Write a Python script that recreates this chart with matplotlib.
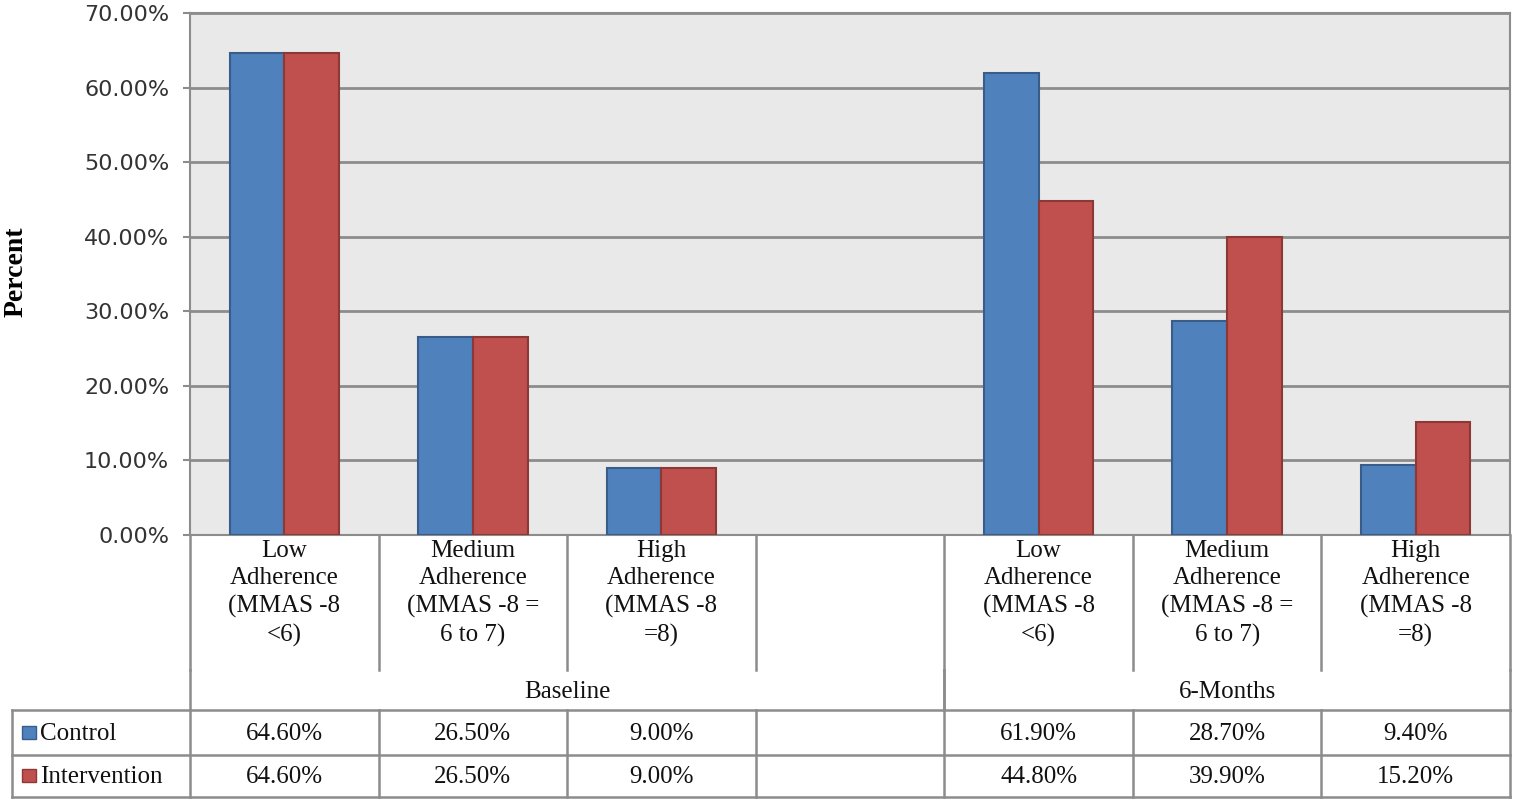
import numpy as np
import matplotlib
matplotlib.use("Agg")
import matplotlib.pyplot as plt
from matplotlib.patches import Rectangle

# data
categories = ["Low\nAdherence\n(MMAS -8\n<6)",
              "Medium\nAdherence\n(MMAS -8 =\n6 to 7)",
              "High\nAdherence\n(MMAS -8\n=8)",
              "",
              "Low\nAdherence\n(MMAS -8\n<6)",
              "Medium\nAdherence\n(MMAS -8 =\n6 to 7)",
              "High\nAdherence\n(MMAS -8\n=8)"]
control = [64.6, 26.5, 9.0, np.nan, 61.9, 28.7, 9.4]
intervention = [64.6, 26.5, 9.0, np.nan, 44.8, 39.9, 15.2]
groups = ["Baseline", "6-Months"]
group_span = [(0, 3), (4, 6)]
series = ["Control", "Intervention"]
yticks = [0, 10, 20, 30, 40, 50, 60, 70]

blue, blue_edge = "#4F81BD", "#385D8A"
red, red_edge = "#C0504D", "#8C3836"
grid_c = "#8C8C8C"
serif = "Liberation Serif"

fig = plt.figure(figsize=(15.15, 8), dpi=100)
W, H = 1515.0, 800.0
x0, x1, ytop, ybot = 190, 1510, 13, 535
ax = fig.add_axes([x0 / W, 1 - ybot / H, (x1 - x0) / W, (ybot - ytop) / H])

x = np.arange(len(categories))
w = 0.29
ax.set_facecolor("#E9E9E9")
ax.bar(x - w / 2, control, w, color=blue, edgecolor=blue_edge, linewidth=1.5, zorder=3)
ax.bar(x + w / 2, intervention, w, color=red, edgecolor=red_edge, linewidth=1.5, zorder=3)
ax.set_xlim(-0.5, len(categories) - 0.5)
ax.set_ylim(0, 70)
ax.set_yticks(yticks)
ax.set_yticklabels(["%.2f%%" % v for v in yticks], fontsize=16, color="#333333",
                   family="DejaVu Sans")
ax.set_xticks([])
ax.yaxis.grid(True, color=grid_c, linewidth=2, zorder=1)
ax.set_axisbelow(True)
ax.tick_params(axis="y", length=5, width=1.5, color=grid_c, pad=10)
for s in ax.spines.values():
    s.set_color(grid_c)
    s.set_linewidth(1.5)
ax.set_ylabel("Percent", fontsize=20, fontweight="bold", family=serif)
ax.yaxis.set_label_coords(-0.122, 0.505)

# data table under the plot, rows measured from the x axis downward
tb = fig.add_axes([x0 / W, 0, (x1 - x0) / W, (H - ybot) / H])
tb.set_xlim(-0.5, len(categories) - 0.5)
tb.set_ylim(H - ybot, 0)
tb.axis("off")
r_cat, r_grp, r_c, r_i = 135, 175, 220, 262
lw = 1.8
xl = -0.5 - (x0 - 12) / ((x1 - x0) / len(categories))

def hline(y, xa, xb):
    tb.plot([xa, xb], [y, y], color=grid_c, lw=lw, clip_on=False)

def vline(xv, ya, yb):
    tb.plot([xv, xv], [ya, yb], color=grid_c, lw=lw, clip_on=False)

# category labels
for i, c in enumerate(categories):
    tb.text(i, 5, c, ha="center", va="top", fontsize=18, family=serif,
            linespacing=1.32, color="#111111")
for b in np.arange(len(categories) + 1) - 0.5:
    vline(b, 0, r_cat)
# group labels
for g, (a, b) in zip(groups, group_span):
    tb.text((a + b) / 2, (r_cat + r_grp) / 2 + 2, g, ha="center", va="center",
            fontsize=18, family=serif, color="#111111")
for a, b in group_span:
    vline(a - 0.5, r_cat, r_grp)
    vline(b + 0.5, r_cat, r_grp)
# value rows
hline(r_grp, xl, len(categories) - 0.5)
hline(r_c, xl, len(categories) - 0.5)
hline(r_i, xl, len(categories) - 0.5)
vline(xl, r_grp, r_i)
for b in np.arange(len(categories) + 1) - 0.5:
    vline(b, r_grp, r_i)

kw = (0.5 - (-0.5)) / 188.57 * 14
for name, vals, fc, ec, (ya, yb) in [
        (series[0], control, blue, blue_edge, (r_grp, r_c)),
        (series[1], intervention, red, red_edge, (r_c, r_i))]:
    ym = (ya + yb) / 2
    tb.add_patch(Rectangle((xl + 0.055, ym - 7), kw, 13, facecolor=fc, edgecolor=ec,
                           lw=1, clip_on=False))
    tb.text(xl + 0.055 + kw + 0.02, ym + 1, name, ha="left", va="center", fontsize=18,
            family=serif, color="#111111", clip_on=False)
    for i, v in enumerate(vals):
        if not np.isnan(v):
            tb.text(i, ym + 1, "%.2f%%" % v, ha="center", va="center", fontsize=18,
                    family=serif, color="#111111")

fig.savefig("out.png", dpi=100)
